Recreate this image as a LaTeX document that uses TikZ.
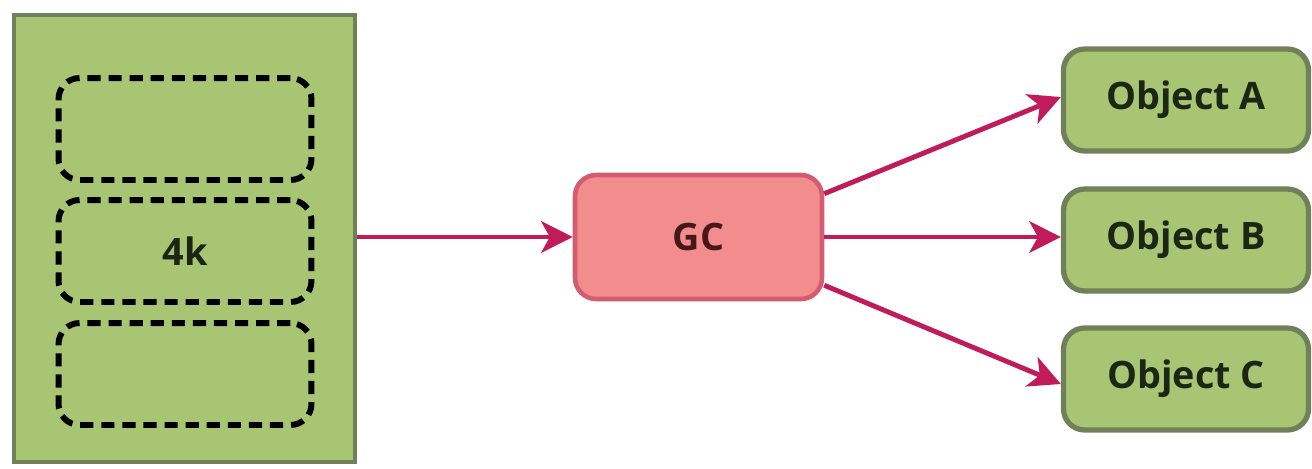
\documentclass[tikz,border=0pt]{standalone}
\usepackage{fontspec}
\setmainfont{Open Sans}
\usetikzlibrary{arrows.meta}

\definecolor{leaf}{RGB}{168,197,116}
\definecolor{leafline}{RGB}{112,128,88}
\definecolor{leaftext}{RGB}{28,38,20}
\definecolor{salmon}{RGB}{243,140,140}
\definecolor{salmonline}{RGB}{212,92,112}
\definecolor{salmontext}{RGB}{70,24,26}
\definecolor{berry}{RGB}{192,28,92}

\begin{document}
\begin{tikzpicture}[x=0.02cm,y=-0.02cm,
 every node/.style={font=\fontsize{21.5}{24}\selectfont\bfseries},
 stack/.style={draw=leafline,fill=leaf,line width=2.2pt,minimum width=6.82cm,minimum height=8.94cm},
 slot/.style={draw=black,dash pattern=on 7.5pt off 4.5pt,line width=3.4pt,rounded corners=12pt,
   minimum width=5.06cm,minimum height=2.04cm,text=leaftext},
 gcbox/.style={draw=salmonline,fill=salmon,line width=2.6pt,rounded corners=12pt,
   minimum width=4.94cm,minimum height=2.48cm,text=salmontext},
 objbox/.style={draw=leafline,fill=leaf,line width=3pt,rounded corners=12pt,
   minimum width=4.9cm,minimum height=2.04cm,text=leaftext},
 link/.style={draw=berry,line width=2.8pt,-{Stealth[length=18pt,width=18pt,inset=5pt]}}]
 \useasboundingbox (0,0) rectangle (1312,468);
 % memory block with its three pages
 \node[stack] (mem) at (184.5,238.5) {};
 \node[slot] (page1) at (185,129) {};
 \node[slot] (page2) at (185,251) {4k};
 \node[slot] (page3) at (185,374) {};
 % collector and the objects it hands out
 \node[gcbox] (gc) at (698.5,237) {GC};
 \node[objbox] (objA) at (1186,100) {Object A};
 \node[objbox] (objB) at (1186,240) {Object B};
 \node[objbox] (objC) at (1186,379) {Object C};
 \draw[link] (mem.east |- gc.west) -- (gc.west);
 \draw[link] (gc.19) -- ([yshift=0.06cm]objA.west);
 \draw[link] (gc.east) -- (gc.east -| objB.west);
 \draw[link] (gc.-21) -- ([yshift=-0.1cm]objC.west);
\end{tikzpicture}
\end{document}
